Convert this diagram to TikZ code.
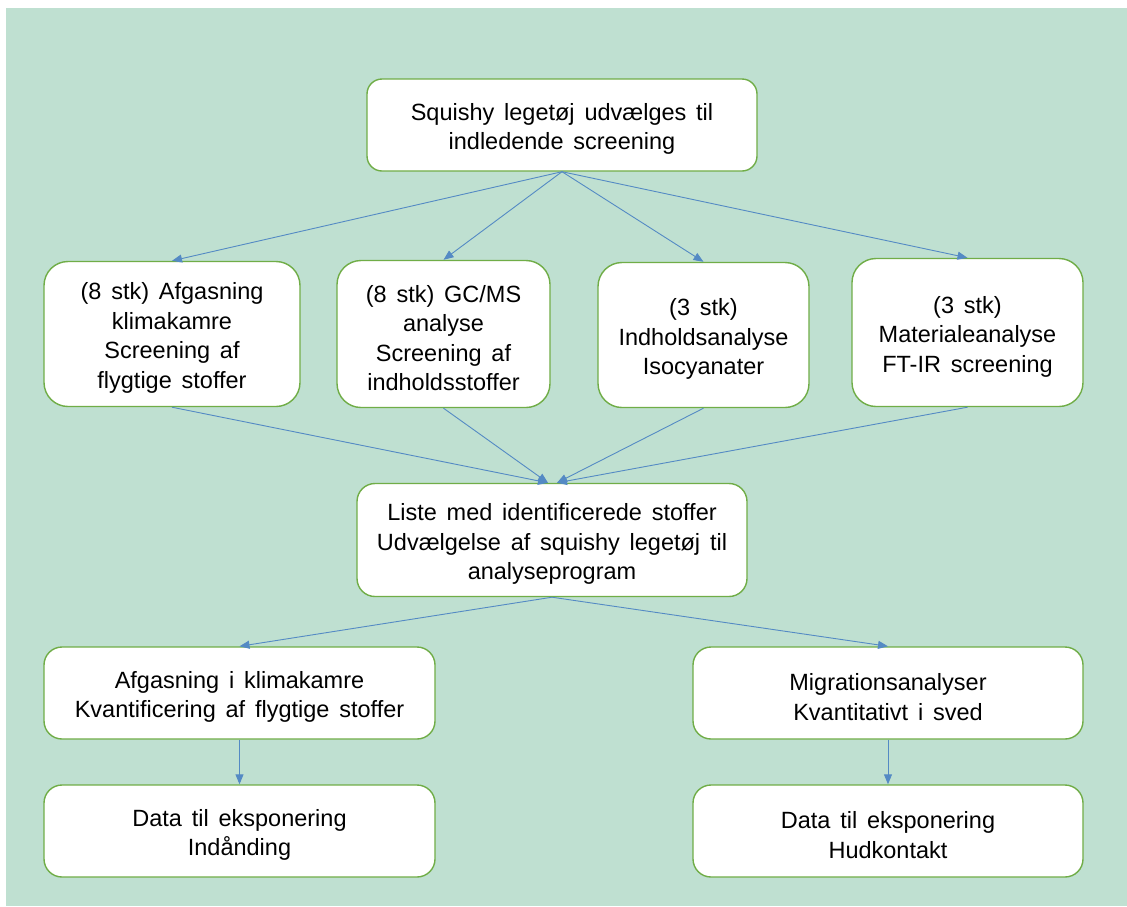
\documentclass[tikz,border=0pt]{standalone}
\usepackage{fontspec}
\setmainfont{Liberation Sans}
\usetikzlibrary{arrows.meta}
\definecolor{bggreen}{RGB}{191,224,209}
\definecolor{boxgreen}{RGB}{112,173,71}
\definecolor{arrblue}{RGB}{84,138,196}
\newcommand\boxfont{\fontsize{23.5}{29.5}\selectfont\spaceskip=9.8pt plus 1pt minus 1pt\relax}
\newcommand\fs{\rule{0pt}{25pt}}
\tikzset{
  flowbox/.style={draw=boxgreen, line width=1.4pt, fill=white, rounded corners=#1,
    align=center, inner sep=0pt, font=\boxfont},
  flowbox/.default=20pt,
  conn/.style={draw=arrblue, line width=0.9pt, -{Triangle[length=10pt,width=8pt]}}
}
\begin{document}
\begin{tikzpicture}[x=1pt,y=-1pt]
\useasboundingbox (0,0) rectangle (1127,906);
\fill[bggreen] (6,8) rectangle (1127,906);

\node[flowbox=15pt, minimum width=390pt, minimum height=92pt] (top) at (562,125)
  {\fs Squishy legetøj udvælges til\\indledende screening};

\node[flowbox=24pt, minimum width=256pt, minimum height=145pt] (b1) at (172,334)
  {\fs (8 stk) Afgasning\\klimakamre\\Screening af\\flygtige stoffer};
\node[flowbox=24pt, minimum width=213pt, minimum height=147pt] (b2) at (443.5,334)
  {\fs (8 stk) GC/MS\\analyse\\Screening af\\indholdsstoffer};
\node[flowbox=24pt, minimum width=211pt, minimum height=145pt] (b3) at (703.5,335)
  {\fs (3 stk)\\Indholdsanalyse\\Isocyanater};
\node[flowbox=24pt, minimum width=231pt, minimum height=148pt] (b4) at (967.5,332.5)
  {\fs (3 stk)\\Materialeanalyse\\FT-IR screening};

\node[flowbox=18pt, minimum width=390pt, minimum height=113pt] (mid) at (552,540)
  {\fs Liste med identificerede stoffer\\Udvælgelse af squishy legetøj til\\analyseprogram};

\node[flowbox=18pt, minimum width=391pt, minimum height=92pt] (A) at (239.5,693)
  {\fs Afgasning i klimakamre\\Kvantificering af flygtige stoffer};
\node[flowbox=18pt, minimum width=391pt, minimum height=92pt] (B) at (239.5,831)
  {\fs Data til eksponering\\Indånding};
\node[flowbox=18pt, minimum width=390pt, minimum height=92pt] (C) at (888,693)
  {\fs Migrationsanalyser\\Kvantitativt i sved};
\node[flowbox=18pt, minimum width=390pt, minimum height=92pt] (D) at (888,831)
  {\fs Data til eksponering\\Hudkontakt};

\draw[conn] (top.south) -- (b1.north);
\draw[conn] (top.south) -- (b2.north);
\draw[conn] (top.south) -- (b3.north);
\draw[conn] (top.south) -- (b4.north);

\draw[conn] (b1.south) -- ([xshift=-4pt]mid.north);
\draw[conn] (b2.south) -- ([xshift=-4pt]mid.north);
\draw[conn] (b3.south) -- ([xshift=5pt]mid.north);
\draw[conn] (b4.south) -- ([xshift=5pt]mid.north);

\draw[conn] (mid.south) -- (A.north);
\draw[conn] (mid.south) -- (C.north);
\draw[conn] (A.south) -- (B.north);
\draw[conn] (C.south) -- (D.north);
\end{tikzpicture}
\end{document}
